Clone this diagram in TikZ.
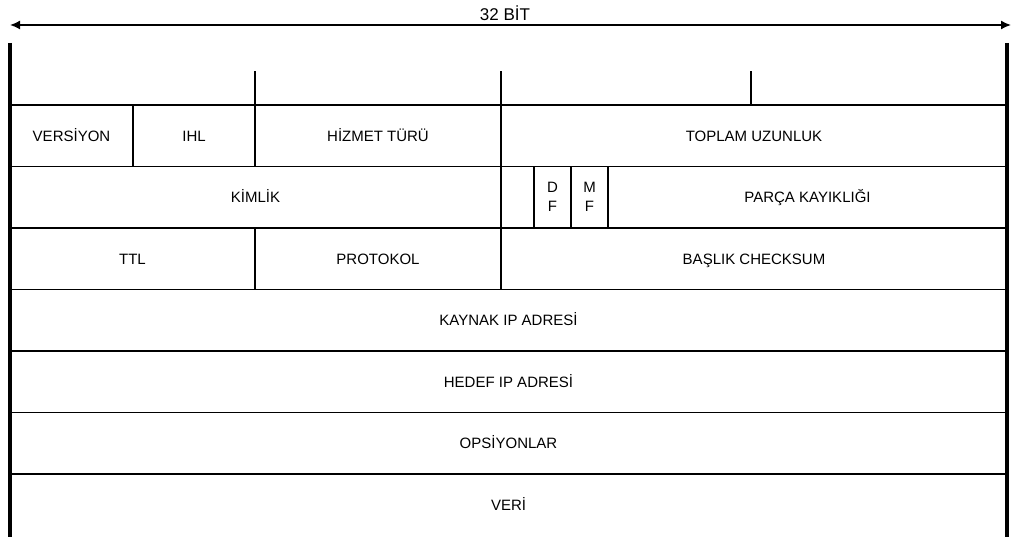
\documentclass[tikz,border=0pt]{standalone}
\usepackage{fontspec}
\setmainfont{Liberation Sans}
\usetikzlibrary{positioning,arrows.meta}

\begin{document}
\begin{tikzpicture}[x=1pt, y=-1pt,
    field/.style={draw, line width=1.6pt, rectangle, inner sep=0pt, outer sep=0pt,
                  minimum height=61.5pt, text height=10.7pt, text depth=0pt,
                  font=\fontsize{15}{19}\selectfont},
    flag/.style={field, text height=, text depth=, align=center},
    ln/.style={line width=1.6pt},
    side/.style={line width=3.6pt},
    arr/.style={{Latex[length=10pt,width=9pt]}-{Latex[length=10pt,width=9pt]}, line width=1.6pt}
]
    \useasboundingbox (0,0) rectangle (1011,537);

    % 32 bit scale
    \coordinate (al) at (10,25);
    \coordinate (ar) at (1011,25);
    \draw[arr] (al) -- (ar);
    \node[font=\fontsize{17}{20}\selectfont] (bit) at (505,13) {32 BİT};

    % row 1
    \node[field, minimum width=123pt, anchor=north west] (ver) at (10,105) {VERSİYON};
    \node[field, minimum width=122pt, right=0pt of ver]  (ihl)   {IHL};
    \node[field, minimum width=246pt, right=0pt of ihl]  (tos)   {HİZMET TÜRÜ};
    \node[field, minimum width=506pt, right=0pt of tos]  (len)   {TOPLAM UZUNLUK};

    % row 2
    \node[field, minimum width=491pt, anchor=north west] (kimlik) at (ver.south west) {KİMLİK};
    \node[field, minimum width=33pt,  right=0pt of kimlik] (bos)  {};
    \node[flag,  minimum width=37pt,  right=0pt of bos]    (df)   {D\\F};
    \node[flag,  minimum width=37pt,  right=0pt of df]     (mf)   {M\\F};
    \node[field, minimum width=399pt, right=0pt of mf]     (frag) {PARÇA KAYIKLIĞI};

    % row 3
    \node[field, minimum width=245pt, anchor=north west] (ttl) at (kimlik.south west) {TTL};
    \node[field, minimum width=246pt, right=0pt of ttl]    (proto) {PROTOKOL};
    \node[field, minimum width=506pt, right=0pt of proto]  (chk)   {BAŞLIK CHECKSUM};

    % rows 4-7
    \node[field, minimum width=997pt, anchor=north west] (kaynak) at (ttl.south west)    {KAYNAK IP ADRESİ};
    \node[field, minimum width=997pt, below=0pt of kaynak] (hedef)  {HEDEF IP ADRESİ};
    \node[field, minimum width=997pt, below=0pt of hedef]  (ops)    {OPSİYONLAR};
    \node[field, draw=none, minimum width=997pt, below=0pt of ops] (veri) {VERİ};

    % byte ticks
    \draw[ln] (tos.north west) -- ++(0,-34);
    \draw[ln] (len.north west) -- ++(0,-34);
    \draw[ln] ([xshift=250pt]len.north west) -- ++(0,-34);

    % outer sides
    \draw[side] (10,43) -- (10,537);
    \draw[side] (1007,43) -- (1007,537);
\end{tikzpicture}
\end{document}
